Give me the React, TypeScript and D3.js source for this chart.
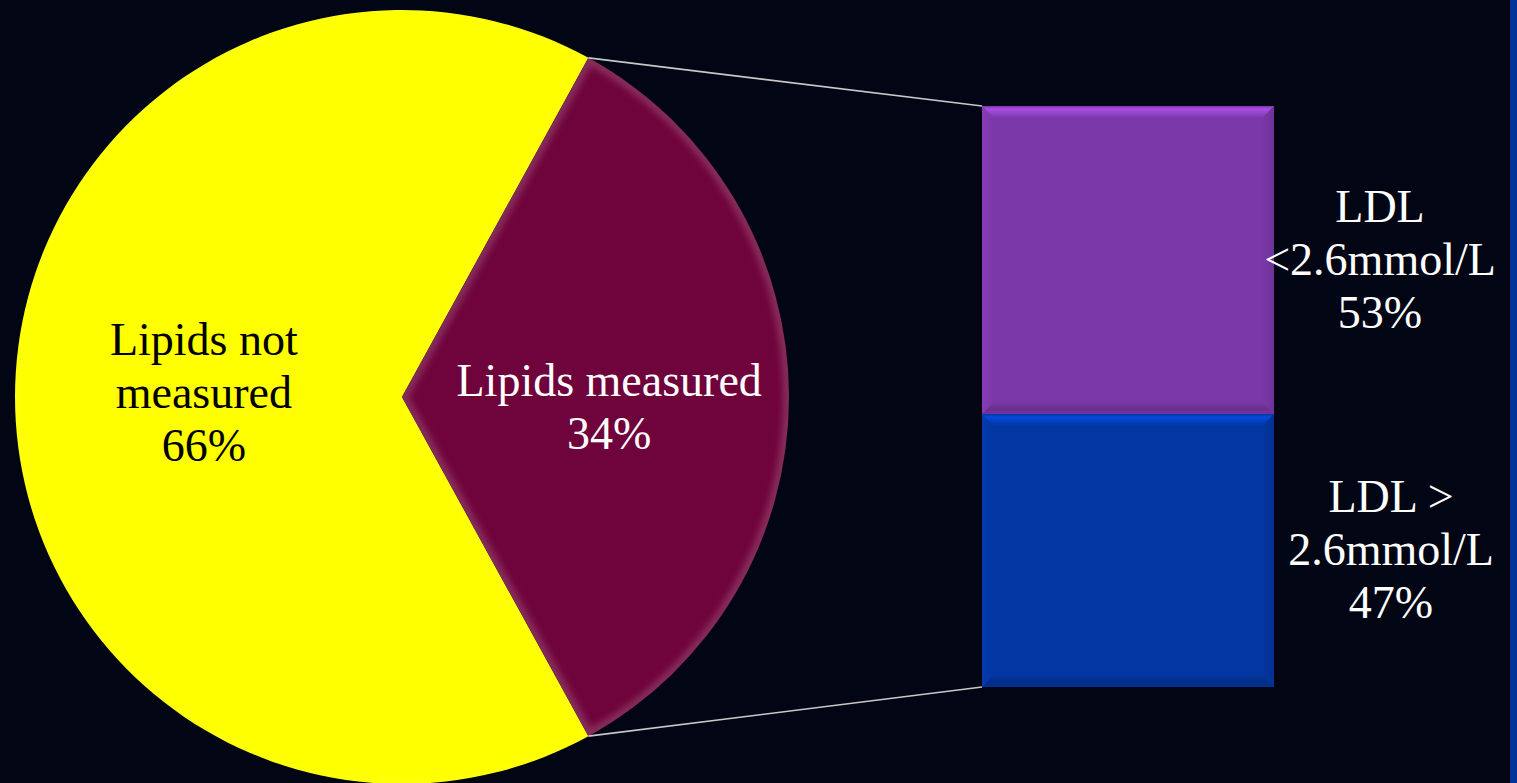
import React, { useEffect } from 'react';
import * as d3 from 'd3';

// Pie: share of patients with lipids measured
const pieCategories = ['Lipids not measured', 'Lipids measured'];
const pieValues = [66, 34];
const pieLabelLines = [
  ['Lipids not', 'measured', '66%'],
  ['Lipids measured', '34%'],
];

// Breakdown bar for the measured group (top segment first)
const barCategories = ['LDL <2.6mmol/L', 'LDL > 2.6mmol/L'];
const barValues = [53, 47];
const barLabelLines = [
  ['LDL', '<2.6mmol/L', '53%'],
  ['LDL >', '2.6mmol/L', '47%'],
];

const W = 1517;
const H = 783;
const BG = '#020614';
const FONT = "'Liberation Serif', 'Times New Roman', 'DejaVu Serif', serif";
const pieColors = ['#ffff00', '#6f033b'];
const pieTextColors = ['#000000', '#ffffff'];
const barColors = ['#7b38a8', '#0336a0'];

type Seg = { key: string; value: number; y0: number; y1: number; i: number };

function Bevel({ x0, y0, x1, y1, color, id }: { x0: number; y0: number; x1: number; y1: number; color: string; id: string }) {
  const b = 12;
  const c = d3.color(color)!;
  const light = c.brighter(0.9).formatHex();
  const side = c.brighter(0.25).formatHex();
  const dark = c.darker(0.5).formatHex();
  const pts = (p: number[][]) => p.map((q) => q.join(',')).join(' ');
  return (
    <g>
      <defs>
        <linearGradient id={`${id}-top`} x1="0" y1="0" x2="0" y2="1">
          <stop offset="0" stopColor={c.formatHex()} />
          <stop offset="0.25" stopColor={light} />
          <stop offset="1" stopColor={c.formatHex()} />
        </linearGradient>
        <linearGradient id={`${id}-bot`} x1="0" y1="0" x2="0" y2="1">
          <stop offset="0" stopColor={c.formatHex()} />
          <stop offset="0.6" stopColor={dark} />
          <stop offset="1" stopColor={c.darker(0.2).formatHex()} />
        </linearGradient>
        <linearGradient id={`${id}-left`} x1="0" y1="0" x2="1" y2="0">
          <stop offset="0" stopColor={side} />
          <stop offset="1" stopColor={c.formatHex()} />
        </linearGradient>
        <linearGradient id={`${id}-right`} x1="0" y1="0" x2="1" y2="0">
          <stop offset="0" stopColor={c.formatHex()} />
          <stop offset="1" stopColor={c.darker(0.3).formatHex()} />
        </linearGradient>
      </defs>
      <rect x={x0} y={y0} width={x1 - x0} height={y1 - y0} fill={color} />
      <polygon points={pts([[x0, y0], [x0 + b, y0 + b], [x0 + b, y1 - b], [x0, y1]])} fill={`url(#${id}-left)`} />
      <polygon points={pts([[x1, y0], [x1 - b, y0 + b], [x1 - b, y1 - b], [x1, y1]])} fill={`url(#${id}-right)`} />
      <polygon points={pts([[x0, y0], [x1, y0], [x1 - b, y0 + b], [x0 + b, y0 + b]])} fill={`url(#${id}-top)`} />
      <polygon points={pts([[x0, y1], [x1, y1], [x1 - b, y1 - b], [x0 + b, y1 - b]])} fill={`url(#${id}-bot)`} />
    </g>
  );
}

export default function App() {
  useEffect(() => {
    document.body.style.margin = '0';
    document.body.style.background = BG;
  }, []);

  // Pie geometry: measured slice centred on the right-hand side
  const cx = 402;
  const cy = 397;
  const r = 387;
  const total = d3.sum(pieValues);
  const measuredShare = pieValues[1] / total;
  const start = Math.PI / 2 + Math.PI * measuredShare;
  const pie = d3
    .pie<number>()
    .sort(null)
    .value((d) => d)
    .startAngle(start)
    .endAngle(start + 2 * Math.PI);
  const arcs = pie(pieValues);
  const arcGen = d3.arc<d3.PieArcDatum<number>>().innerRadius(0).outerRadius(r);
  const labelR = r * 0.525;
  const labelArc = d3.arc<d3.PieArcDatum<number>>().innerRadius(labelR).outerRadius(labelR);
  // small per-slice nudges for the text blocks
  const labelNudge: [number, number][] = [
    [5, -6],
    [4, 8],
  ];
  const onCircle = (a: number): [number, number] => [cx + r * Math.sin(a), cy - r * Math.cos(a)];
  const measured = arcs[1];
  const pTop = onCircle(measured.startAngle);
  const pBot = onCircle(measured.endAngle);

  // Stacked bar geometry
  const bx0 = 982;
  const bx1 = 1274;
  const y = d3.scaleLinear().domain([0, d3.sum(barValues)]).range([687, 106]);
  const segs: Seg[] = [];
  let acc = 0;
  for (let i = barValues.length - 1; i >= 0; i--) {
    segs.push({ key: barCategories[i], value: barValues[i], y0: acc, y1: acc + barValues[i], i });
    acc += barValues[i];
  }

  const lh = 53;
  const fs = 46;

  return (
    <svg width={W} height={H} style={{ position: 'absolute', left: 0, top: 0, display: 'block' }}>
      <defs>
        {arcs.map((a, i) => (
          <clipPath id={`slice-clip-${i}`} key={i}>
            <path d={arcGen(a) || ''} transform={`translate(${cx},${cy})`} />
          </clipPath>
        ))}
        <filter id="soft" x="-10%" y="-10%" width="120%" height="120%">
          <feGaussianBlur stdDeviation="3" />
        </filter>
      </defs>
      <rect width={W} height={H} fill={BG} />
      <rect x={1510} y={0} width={7} height={H} fill="#003399" />

      {/* pie slices */}
      <g>
        {arcs.map((a, i) => (
          <g key={pieCategories[i]}>
            <path d={arcGen(a) || ''} transform={`translate(${cx},${cy})`} fill={pieColors[i]} />
            <g clipPath={`url(#slice-clip-${i})`}>
              <path
                d={arcGen(a) || ''}
                transform={`translate(${cx},${cy})`}
                fill="none"
                stroke="#ffffff"
                strokeOpacity={i === 1 ? 0.16 : 0.08}
                strokeWidth={i === 1 ? 12 : 6}
                filter="url(#soft)"
              />
            </g>
          </g>
        ))}
      </g>

      {/* connector lines from the measured slice to the bar */}
      <line x1={pTop[0]} y1={pTop[1]} x2={bx0} y2={y(d3.sum(barValues))} stroke="#c8c8c8" strokeWidth={1.6} />
      <line x1={pBot[0]} y1={pBot[1]} x2={bx0} y2={y(0)} stroke="#c8c8c8" strokeWidth={1.6} />

      {/* pie labels */}
      {arcs.map((a, i) => {
        const [lx, ly] = labelArc.centroid(a);
        const tx = cx + lx + labelNudge[i][0];
        const lines = pieLabelLines[i];
        return (
          <text
            key={`pl-${i}`}
            x={tx}
            textAnchor="middle"
            style={{ fontFamily: FONT, fontSize: fs }}
            fill={pieTextColors[i]}
          >
            {lines.map((t, j) => (
              <tspan key={j} x={tx} y={cy + ly + (j - (lines.length - 1) / 2) * lh + 17 + labelNudge[i][1]}>
                {t}
              </tspan>
            ))}
          </text>
        );
      })}

      {/* stacked bar */}
      {segs.map((s) => (
        <Bevel
          key={s.key}
          id={`seg-${s.i}`}
          x0={bx0}
          x1={bx1}
          y0={y(s.y1)}
          y1={y(s.y0)}
          color={barColors[s.i]}
        />
      ))}

      {/* bar labels */}
      {segs.map((s) => {
        const mid = (y(s.y0) + y(s.y1)) / 2;
        const lines = barLabelLines[s.i];
        const lx = bx1 + (s.i === 0 ? 106 : 117);
        return (
          <text key={`bl-${s.i}`} textAnchor="middle" style={{ fontFamily: FONT, fontSize: fs }} fill="#ffffff">
            {lines.map((t, j) => (
              <tspan key={j} x={lx} y={mid + (j - (lines.length - 1) / 2) * lh + 15}>
                {t}
              </tspan>
            ))}
          </text>
        );
      })}
    </svg>
  );
}
